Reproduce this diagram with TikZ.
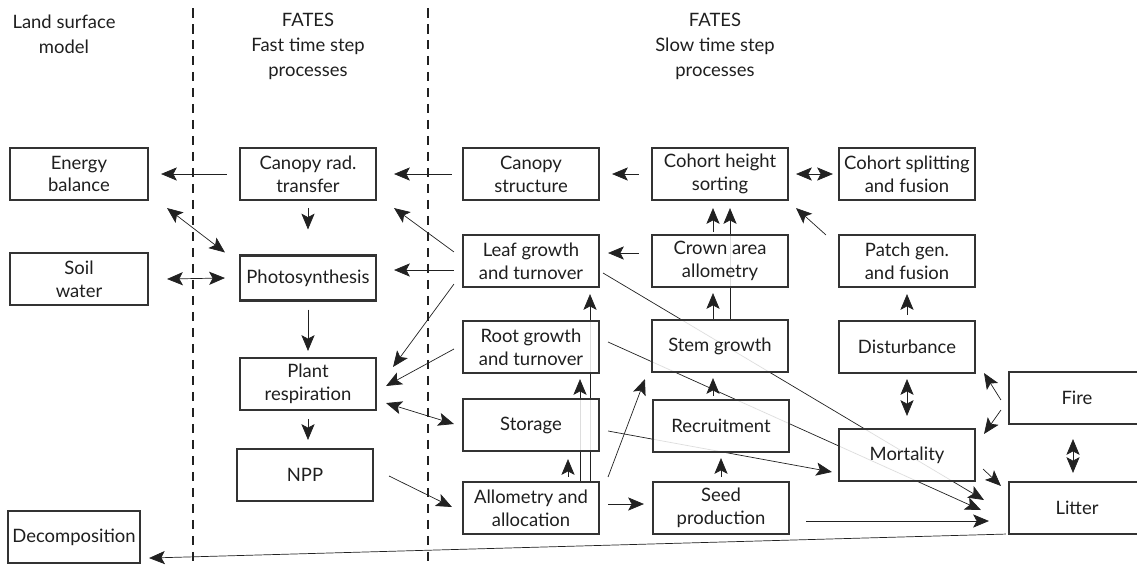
\documentclass[tikz,border=0pt]{standalone}
\usepackage{fontspec}
\setmainfont{Lato}
\usetikzlibrary{positioning, calc}
\usetikzlibrary{arrows.meta}
\pgfdeclarelayer{background}
\pgfsetlayers{background,main}

\begin{document}
\begin{tikzpicture}[x=0.02cm, y=-0.02cm, font=\fontsize{10.5}{13}\selectfont, align=center, >={Stealth[length=9pt,width=7.5pt,inset=2pt]}, line width=1pt,
    box/.style={draw=boxgray, line width=1.2pt, fill=white, fill opacity=0.85, text opacity=1, text=textgray, minimum width=2.72cm, minimum height=1.04cm, inner sep=1pt},
    link/.style={->, draw=linegray},
    both/.style={<->, draw=linegray},
    header/.style={text=textgray, font=\fontsize{10.5}{14.2}\selectfont},
    sep/.style={draw=linegray, line width=0.7pt, dash pattern=on 0.19cm off 0.13cm}]
        % Define colors
        \definecolor{boxgray}{rgb}{0.2, 0.2, 0.2}
        \definecolor{linegray}{rgb}{0.13, 0.13, 0.13}
        \definecolor{textgray}{rgb}{0.12, 0.12, 0.12}

        \useasboundingbox (0,0) rectangle (1137,566);

        % Column headers and separators
        \node[header] (hdrlsm) at (64,34) {Land surface\\model};
        \node[header] (hdrfast) at (308,46) {FATES\\Fast time step\\processes};
        \node[header] (hdrslow) at (715,46) {FATES\\Slow time step\\processes};
        \draw[sep] (193,8) -- (193,566);
        \draw[sep] (428,8) -- (428,566);

        % Nodes
        \node[box, minimum width=2.76cm] (eb) at (79,174) {Energy\\balance};
        \node[box, minimum width=2.76cm] (sw) at (79,279) {Soil\\water};
        \node[box, minimum width=2.64cm] (dec) at (74,537) {Decomposition};

        \node[box] (crt) at (308,174) {Canopy rad.\\transfer};
        \node[box, minimum height=0.9cm] (ps) at (308,278) {Photosynthesis};
        \node[box] (pr) at (308,384) {Plant\\respiration};
        \node[box] (npp) at (305,475) {NPP};

        \node[box] (cs) at (531,174) {Canopy\\structure};
        \node[box] (lg) at (531,261) {Leaf growth\\and turnover};
        \node[box] (rg) at (531,347) {Root growth\\and turnover};
        \node[box] (st) at (531,425) {Storage};
        \node[box] (aa) at (531,508) {Allometry and\\allocation};

        \node[box] (chs) at (720,174) {Cohort height\\sorting};
        \node[box] (ca) at (720,261) {Crown area\\allometry};
        \node[box] (sg) at (720,346) {Stem growth};
        \node[box] (rec) at (721,426) {Recruitment};
        \node[box] (sp) at (721,508) {Seed\\production};

        \node[box] (csf) at (907,174) {Cohort splitting\\and fusion};
        \node[box] (pg) at (907,261) {Patch gen.\\and fusion};
        \node[box] (dist) at (907,347) {Disturbance};
        \node[box] (mort) at (907,455) {Mortality};

        \node[box] (fire) at (1077,398) {Fire};
        \node[box] (lit) at (1077,508) {Litter};

        % Edges
        \begin{pgfonlayer}{background}
        \draw[link] ($(crt.west)+(-12,0)$) -- ($(eb.east)+(12,0)$);
        \draw[link] ($(cs.west)+(-10,0)$) -- ($(crt.east)+(17,0)$);
        \draw[link] ($(chs.west)+(-12,0)$) -- ($(cs.east)+(12,0)$);
        \draw[both] ($(chs.east)+(7,0)$) -- ($(csf.west)+(-5,0)$);
        \draw[link] ($(crt.south)+(0,7)$) -- ($(ps.north)+(0,-25)$);
        \draw[both] ($(eb.south east)+(18,7)$) -- ($(ps.north west)+(-14,-2)$);
        \draw[both] ($(sw.east)+(18,0)$) -- ($(ps.west)+(-14,0)$);
        \draw[link] ($(lg.north west)+(-8,18)$) -- ($(crt.south east)+(17,7)$);
        \draw[link] ($(lg.west)+(-8,9)$) -- ($(ps.east)+(17,-8)$);
        \draw[link] ($(lg.south west)+(-8,-4)$) -- ($(pr.north east)+(16,10)$);
        \draw[link] ($(rg.west)+(-8,2)$) -- ($(pr.east)+(9,2)$);
        \draw[both] ($(pr.south east)+(9,-8)$) -- ($(st.west)+(-8,-1)$);
        \draw[link] ($(ps.south)+(0,8)$) -- ($(pr.north)+(0,-6)$);
        \draw[link] ($(pr.south)+(0,8)$) -- ($(pr.south |- npp.north)+(0,-8)$);
        \draw[link] ($(npp.east)+(15,1)$) -- ($(aa.west)+(-10,-1)$);

        \draw[link] ($(ca.west)+(-12,-8)$) -- ($(lg.east)+(8,-8)$);
        \draw[link] ($(ca.north)+(-7,-2)$) -- ($(chs.south)+(-7,7)$);
        \draw[link] ($(sg.north)+(10,0)$) -- ($(chs.south)+(10,7)$);
        \draw[link] ($(sg.north)+(-7,0)$) -- ($(ca.south)+(-7,5)$);
        \draw[link] ($(rec.north)+(-8,-3)$) -- ($(sg.south)+(-7,5)$);
        \draw[link] ($(sp.north)+(0,-4)$) -- ($(rec.south)+(0,5)$);

        \draw[link] ($(aa.north)+(37,-4)$) -- ($(st.south)+(37,7)$);
        \draw[link] ($(aa.north)+(49,0)$) -- ($(rg.south)+(49,5)$);
        \draw[link] ($(aa.north)+(59,0)$) -- ($(lg.south)+(59,6)$);
        \draw[link] ($(aa.north east)+(8,-4)$) -- ($(sg.south west)+(-6,6)$);
        \draw[link] ($(aa.east)+(8,-4)$) -- ($(sp.west)+(-8,-4)$);

        \draw[link] ($(pg.north west)+(-12,1)$) -- ($(chs.south east)+(7,7)$);
        \draw[link] ($(dist.north)+(0,-5)$) -- ($(pg.south)+(0,6)$);
        \draw[both] ($(dist.south)+(0,5)$) -- ($(mort.north)+(0,-12)$);
        \draw[link] ($(fire.west)+(-7,2)$) -- ($(dist.south east)+(8,-1)$);
        \draw[link] ($(fire.west)+(-7,12)$) -- ($(mort.north east)+(8,6)$);
        \draw[both] ($(fire.south)+(-4,14)$) -- ($(lit.north)+(-4,-8)$);
        \draw[link] ($(mort.east)+(7,14)$) -- ($(lit.north west)+(-7,5)$);

        \draw[link] ($(st.east)+(8,6)$) -- ($(mort.west)+(-6,17)$);
        \draw[link] ($(lg.east)+(3,12)$) -- ($(lit.west)+(-24,-8)$);
        \draw[link] ($(rg.east)+(8,-5)$) -- ($(lit.west)+(-27,2)$);
        \draw[link] ($(sp.east)+(16,13)$) -- ($(lit.west)+(-19,13)$);
        \draw[link] ($(lit.south west)+(-2,-1)$) -- ($(dec.south east)+(8,-6)$);
        \end{pgfonlayer}
    \end{tikzpicture}
\end{document}
